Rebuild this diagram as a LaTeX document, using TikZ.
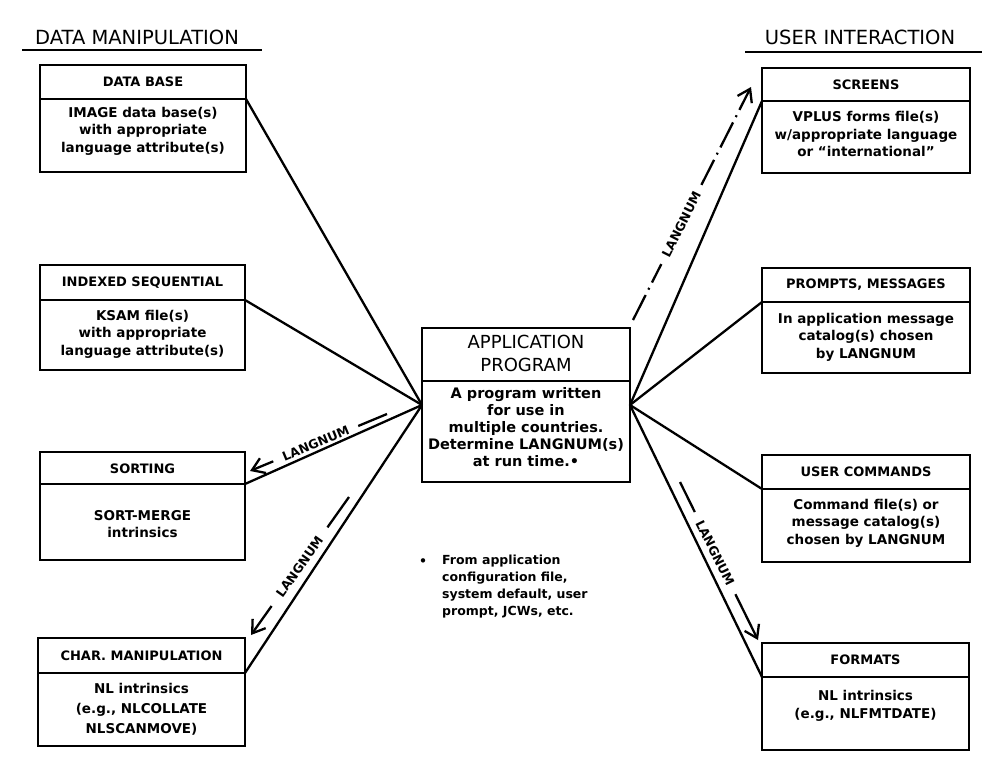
\documentclass[tikz,border=0pt]{standalone}
\usepackage{fontspec}
\setmainfont{DejaVu Sans}
\usetikzlibrary{arrows.meta,calc}
\tikzset{
  frame/.style={draw, line width=2.8pt, inner sep=0pt, outer sep=0pt},
  boxline/.style={line width=2.8pt},
  conn/.style={line width=2.3pt},
  ttl/.style={font=\fontsize{13}{16}\selectfont\bfseries, inner sep=0pt},
  bdy/.style={font=\fontsize{13.5}{17.5}\selectfont\bfseries, align=center, inner sep=0pt},
  apptitle/.style={font=\fontsize{18}{23}\selectfont, align=center, inner sep=0pt},
  appbody/.style={font=\fontsize{14.5}{17}\selectfont\bfseries, align=center, inner sep=0pt},
  heading/.style={font=\fontsize{19.5}{24}\selectfont, inner sep=0pt},
  uline/.style={line width=2.3pt},
  langline/.style={line width=2.3pt},
  langarrow/.style={line width=2.3pt, -{Straight Barb[length=12pt,width=16pt,line width=2.3pt]}},
  dashdot/.style={dash pattern=on 28pt off 6pt on 2pt off 6pt},
  lab/.style={sloped, inner sep=0pt, font=\fontsize{12.5}{14}\selectfont\bfseries},
  note/.style={font=\fontsize{12.5}{17}\selectfont\bfseries, align=left, inner sep=0pt},
}
\newcommand{\mkframe}[6]{%
  \node[frame, minimum width={#3-#2}, minimum height={#6-#4}, anchor=north west] (#1) at (#2,#4) {};
  \coordinate (#1-dl) at (#2,#5);
  \coordinate (#1-dr) at (#3,#5);
  \draw[boxline] (#1-dl) -- (#1-dr);
}
\begin{document}
\begin{tikzpicture}[x=1pt,y=-1pt]
\useasboundingbox (0,0) rectangle (1002,779);

% headings
\node[heading] (hdm) at (137,37.5) {DATA MANIPULATION};
\coordinate (hdmL) at (22,50); \coordinate (hdmR) at (262,50);
\draw[uline] (hdmL) -- (hdmR);
\node[heading] (hui) at (860,37.5) {USER INTERACTION};
\coordinate (huiL) at (745,52); \coordinate (huiR) at (982,52);
\draw[uline] (huiL) -- (huiR);

% left boxes
\mkframe{db}{40}{246}{65}{99}{172}
\node[ttl] (db-t) at (143,82) {DATA BASE};
\node[bdy] (db-b) at (143,131) {IMAGE data base(s)\\with appropriate\\language attribute(s)};

\mkframe{is}{40}{245}{265}{300}{370}
\node[ttl] (is-t) at (142.5,283) {INDEXED SEQUENTIAL};
\node[bdy] (is-b) at (142.5,334) {KSAM file(s)\\with appropriate\\language attribute(s)};

\mkframe{so}{40}{245}{452}{484}{560}
\node[ttl] (so-t) at (142.5,469) {SORTING};
\node[bdy] (so-b) at (142.5,524) {SORT-MERGE\\intrinsics};

\mkframe{cm}{38}{245}{638}{673}{746}
\node[ttl] (cm-t) at (141.5,656) {CHAR. MANIPULATION};
\node[bdy, font=\fontsize{13.5}{20}\selectfont\bfseries] (cm-b) at (141.5,709) {NL intrinsics\\(e.g., NLCOLLATE\\NLSCANMOVE)};

% right boxes
\mkframe{sc}{762}{970}{68}{101}{173}
\node[ttl] (sc-t) at (866,85) {SCREENS};
\node[bdy] (sc-b) at (866,134) {VPLUS forms file(s)\\w/appropriate language\\or ``international''};

\mkframe{pm}{762}{970}{268}{302}{373}
\node[ttl] (pm-t) at (866,285) {PROMPTS, MESSAGES};
\node[bdy] (pm-b) at (866,337) {In application message\\catalog(s) chosen\\by LANGNUM};

\mkframe{uc}{762}{970}{455}{489}{562}
\node[ttl] (uc-t) at (866,472) {USER COMMANDS};
\node[bdy] (uc-b) at (866,523) {Command file(s) or\\message catalog(s)\\chosen by LANGNUM};

\mkframe{fm}{762}{969}{643}{677}{750}
\node[ttl] (fm-t) at (865.5,660) {FORMATS};
\node[bdy] (fm-b) at (865.5,706) {NL intrinsics\\(e.g., NLFMTDATE)};

% center box
\mkframe{app}{422}{630}{328}{381}{482}
\node[apptitle] (app-t) at (526,353) {APPLICATION\\PROGRAM};
\node[appbody] (app-b) at (526,427) {A program written\\for use in\\multiple countries.\\Determine LANGNUM(s)\\at run time.•};

% connectors
\draw[conn] (app.west) -- (db-dr);
\draw[conn] (app.west) -- (is-dr);
\draw[conn] (app.west) -- (so-dr);
\draw[conn] (app.west) -- (cm-dr);
\draw[conn] (app.east) -- (sc-dl);
\draw[conn] (app.east) -- (pm-dl);
\draw[conn] (app.east) -- (uc-dl);
\draw[conn] (app.east) -- (fm-dl);

% LANGNUM arrows (to SORTING)
\coordinate (a1s) at (387,414);
\coordinate (a1e) at (250,471);
\coordinate (a1p) at ($(a1s)!0.21!(a1e)$);
\coordinate (a1q) at ($(a1s)!0.83!(a1e)$);
\draw[langline] (a1s) -- (a1p);
\draw[langarrow] (a1q) -- (a1e);
\path (a1s) -- node[lab, pos=0.52] (l1) {LANGNUM} (a1e);

% to CHAR. MANIPULATION
\coordinate (a2s) at (349,497);
\coordinate (a2e) at (251,635);
\coordinate (a2p) at ($(a2s)!0.22!(a2e)$);
\coordinate (a2q) at ($(a2s)!0.79!(a2e)$);
\draw[langline] (a2s) -- (a2p);
\draw[langarrow] (a2q) -- (a2e);
\path (a2s) -- node[lab, pos=0.505] (l2) {LANGNUM} (a2e);

% to SCREENS (dash-dot)
\coordinate (a3s) at (633,320);
\coordinate (a3e) at (751,87);
\coordinate (a3p) at ($(a3s)!0.24!(a3e)$);
\coordinate (a3q) at ($(a3s)!0.58!(a3e)$);
\draw[langline, dashdot] (a3s) -- (a3p);
\draw[langarrow, dashdot] (a3q) -- (a3e);
\path (a3s) -- node[lab, pos=0.41] (l3) {LANGNUM} (a3e);

% to FORMATS
\coordinate (a4s) at (680,482);
\coordinate (a4e) at (758,640);
\coordinate (a4p) at ($(a4s)!0.19!(a4e)$);
\coordinate (a4q) at ($(a4s)!0.71!(a4e)$);
\draw[langline] (a4s) -- (a4p);
\draw[langarrow] (a4q) -- (a4e);
\path (a4s) -- node[lab, pos=0.45] (l4) {LANGNUM} (a4e);

% footnote
\node[note] (fnb) at (423,562) {•};
\node[note, anchor=north west] (fn) at (442,555) {From application\\configuration file,\\system default, user\\prompt, JCWs, etc.};
\end{tikzpicture}
\end{document}
